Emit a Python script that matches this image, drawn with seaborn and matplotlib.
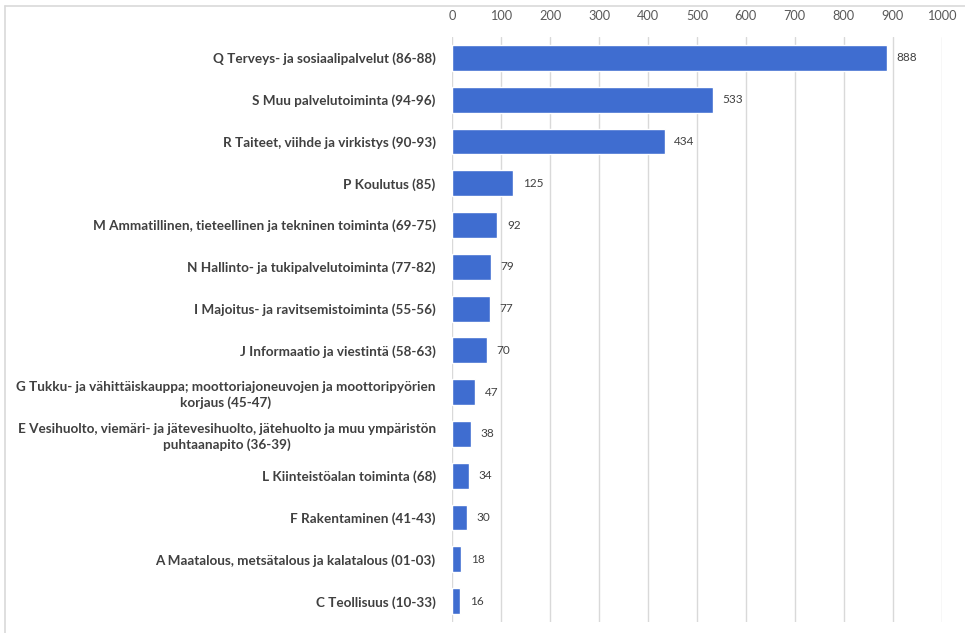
import matplotlib
matplotlib.use("Agg")
import matplotlib.pyplot as plt
import seaborn as sns
import pandas as pd
from matplotlib.lines import Line2D

categories = [
    "Q Terveys- ja sosiaalipalvelut (86-88)",
    "S Muu palvelutoiminta (94-96)",
    "R Taiteet, viihde ja virkistys (90-93)",
    "P Koulutus (85)",
    "M Ammatillinen, tieteellinen ja tekninen toiminta (69-75)",
    "N Hallinto- ja tukipalvelutoiminta (77-82)",
    "I Majoitus- ja ravitsemistoiminta (55-56)",
    "J Informaatio ja viestintä (58-63)",
    "G Tukku- ja vähittäiskauppa; moottoriajoneuvojen ja moottoripyörien\nkorjaus (45-47)",
    "E Vesihuolto, viemäri- ja jätevesihuolto, jätehuolto ja muu ympäristön\npuhtaanapito (36-39)",
    "L Kiinteistöalan toiminta (68)",
    "F Rakentaminen (41-43)",
    "A Maatalous, metsätalous ja kalatalous (01-03)",
    "C Teollisuus (10-33)",
]
values = [888, 533, 434, 125, 92, 79, 77, 70, 47, 38, 34, 30, 18, 16]
ticks = [0, 100, 200, 300, 400, 500, 600, 700, 800, 900, 1000]

df = pd.DataFrame({"cat": categories, "val": values})

sns.set_theme(style="white")
plt.rcParams["font.family"] = ["Lato", "DejaVu Sans"]

fig = plt.figure(figsize=(9.65, 6.33), dpi=100)
ax = fig.add_axes([452.3/965, 0.0174, 489.2/965, 0.9241])

sns.barplot(data=df, x="val", y="cat", color="#3F6DD0", width=0.62,
            saturation=1, ax=ax, zorder=3)

ax.set_xlim(0, 1000)
ax.set_xticks(ticks)
ax.set_xticklabels([str(t) for t in ticks])
ax.xaxis.tick_top()
ax.tick_params(axis="x", length=0, pad=11, labelsize=9.2, labelcolor="#595959")
ax.tick_params(axis="y", length=0, pad=12)
for lab in ax.get_yticklabels():
    lab.set_fontsize(9.7)
    lab.set_fontweight("bold")
    lab.set_color("#404040")
    lab.set_multialignment("center")
    lab.set_linespacing(1.3)
ax.set_xlabel("")
ax.set_ylabel("")
ax.grid(axis="x", color="#D9D9D9", linewidth=1, zorder=0)
ax.set_axisbelow(True)
for s in ax.spines.values():
    s.set_visible(False)

for c in ax.containers:
    ax.bar_label(c, labels=[str(v) for v in values], padding=7,
                 fontsize=8.5, color="#404040")

# figure frame (top and left edges visible)
fig.add_artist(Line2D([5/965, 5/965], [0, 1-6/633], transform=fig.transFigure,
                      color="#D9D9D9", linewidth=1.2))
fig.add_artist(Line2D([5/965, 1], [1-6/633, 1-6/633], transform=fig.transFigure,
                      color="#D9D9D9", linewidth=1.2))

fig.savefig("out.png", dpi=100)
